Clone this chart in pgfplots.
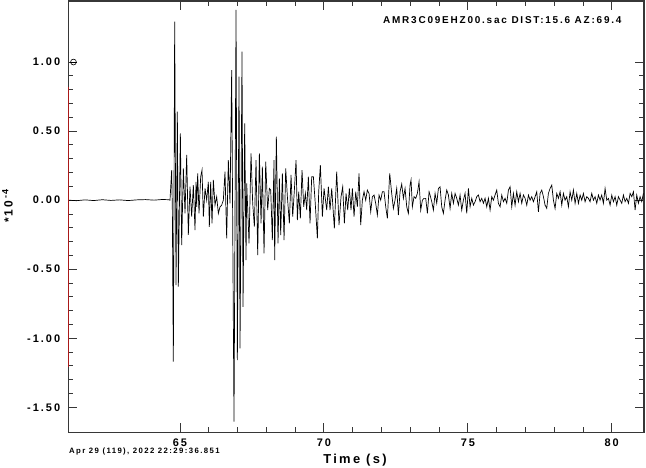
\documentclass[border=0pt]{standalone}
\usepackage{pgfplots}
\pgfplotsset{compat=1.18}
\usepackage{fontspec}
\setmainfont{Liberation Sans}[LetterSpace=18]
\definecolor{axgray}{RGB}{55,55,55}
\definecolor{sacred}{RGB}{170,25,25}
\begin{document}
\begin{tikzpicture}
\useasboundingbox (0,0) rectangle (646bp,468bp);
\begin{axis}[
  at={(68.3bp,35.7bp)}, anchor=south west,
  width=575.7bp, height=431.3bp, scale only axis,
  xmin=61.12, xmax=81.12, ymin=-1.681, ymax=1.442,
  clip=false,
  axis line style={draw=axgray, line width=1.5pt},
  xtick={65,70,75,80}, xticklabels={65,70,75,80},
  ytick={-1.5,-1,-0.5,0,0.5,1},
  yticklabels={-1.50,-1.00,-0.50,0.00,0.50,1.00},
  minor x tick num=4, minor y tick num=4,
  tick align=inside,
  major tick length=9bp, minor tick length=5bp,
  every tick/.style={draw=axgray, line width=0.9pt},
  tick label style={font=\bfseries\fontsize{11}{12}\selectfont},
  xticklabel style={inner sep=0pt, yshift=-6bp},
  yticklabel style={inner sep=0pt, xshift=-8bp},
  /pgf/number format/assume math mode=true,
]
\addplot[black, line width=0.7pt] coordinates {
(61.12,0.000) (61.40,-0.004) (61.70,0.002) (62.00,-0.003) (62.30,0.003) (62.60,-0.002) (62.90,0.002) (63.20,-0.003) (63.50,0.002) (63.80,0.004) (64.10,0.000) (64.40,0.005) (64.60,0.003) (64.653,0.0)
(64.711,0.218) (64.735,-0.072) (64.769,-1.170) (64.816,1.292) (64.862,-0.615) (64.908,0.641) (64.943,-0.627) (65.013,0.483) (65.059,-0.325) (65.117,0.230) (65.175,-0.096) (65.233,0.327) (65.290,-0.252) (65.348,0.097) (65.406,-0.120) (65.464,0.109) (65.522,-0.217) (65.557,0.133) (65.580,-0.048) (65.615,0.194) (65.661,-0.096) (65.719,0.170) (65.765,0.218) (65.812,-0.120) (65.870,0.085) (65.927,0.0) (65.985,0.133) (66.020,-0.193) (66.066,0.133) (66.113,-0.169) (66.159,0.146) (66.217,-0.036) (66.275,0.025) (66.333,-0.096) (66.391,-0.048) (66.448,-0.036) (66.506,0.0) (66.564,0.206) (66.622,-0.276) (66.680,0.290) (66.738,-0.024) (66.796,0.942) (66.877,-1.604) (66.947,1.377) (66.993,-1.158) (67.051,0.894) (67.086,-1.074) (67.155,1.075) (67.190,-0.772) (67.248,0.556)
(67.294,-0.434) (67.318,0.122) (67.399,-0.313) (67.468,0.339) (67.526,-0.023) (67.584,-0.192) (67.642,0.290) (67.700,-0.398) (67.758,0.339) (67.816,-0.168) (67.862,0.242) (67.920,-0.386) (67.978,0.278) (68.047,-0.072) (68.105,0.085) (68.152,0.073) (68.209,-0.289) (68.267,0.290) (68.290,-0.434) (68.348,0.459) (68.406,-0.313) (68.453,0.158) (68.499,-0.253) (68.557,0.194) (68.615,-0.289) (68.673,0.230) (68.731,0.025) (68.800,-0.168) (68.858,0.182) (68.916,-0.120) (68.974,0.073) (69.032,0.290) (69.078,-0.145) (69.124,0.061) (69.182,-0.132) (69.240,0.218) (69.298,-0.048) (69.356,0.049) (69.402,-0.072) (69.460,0.170) (69.518,-0.168) (69.576,0.170) (69.634,0.170) (69.692,0.0) (69.773,-0.277) (69.819,0.061) (69.877,0.254) (69.947,-0.120) (70.005,0.085)
(70.097,-0.072) (70.155,0.097) (70.213,-0.072) (70.271,0.085) (70.363,-0.204) (70.444,0.206) (70.525,-0.180) (70.595,0.025) (70.653,0.097) (70.711,-0.168) (70.769,0.049) (70.827,-0.072) (70.884,0.085) (70.942,-0.072) (70.989,0.085) (71.047,-0.120) (71.105,0.061) (71.162,-0.048) (71.220,0.194) (71.278,-0.180) (71.336,0.0) (71.394,0.061) (71.452,0.0) (71.510,0.073) (71.568,0.049) (71.626,-0.084) (71.684,0.025) (71.742,0.037) (71.799,-0.023) (71.857,-0.108) (71.915,0.037) (71.973,0.0) (72.031,0.061) (72.089,0.061) (72.147,-0.048) (72.205,-0.132) (72.286,0.194) (72.355,0.049) (72.413,-0.060) (72.471,0.0) (72.529,0.085) (72.587,-0.108) (72.645,0.061) (72.703,0.117) (72.761,0.013) (72.819,0.085) (72.877,-0.048) (72.935,-0.096) (72.992,0.109) (73.027,0.146) (73.073,-0.048) (73.131,0.025) (73.189,0.013) (73.247,0.049) (73.305,0.133) (73.363,-0.072) (73.421,0.0) (73.479,0.013) (73.537,0.013) (73.595,-0.096) (73.653,0.061)
(73.688,0.037) (73.746,-0.011) (73.804,-0.072) (73.862,0.049) (73.920,-0.023) (73.978,0.085) (74.035,0.097) (74.093,-0.048) (74.151,-0.096) (74.209,0.0) (74.267,0.073) (74.325,0.037) (74.383,-0.060) (74.441,0.049) (74.499,-0.023) (74.557,0.049) (74.615,0.013) (74.672,-0.036) (74.730,0.037) (74.788,-0.072) (74.846,0.0) (74.904,0.049) (74.962,-0.096) (75.020,0.085) (75.078,-0.048) (75.136,0.013) (75.194,-0.036) (75.252,-0.011) (75.309,0.025) (75.367,0.037) (75.425,-0.011) (75.483,0.013) (75.541,-0.023) (75.599,0.013) (75.657,-0.048) (75.715,0.013) (75.773,-0.072) (75.831,0.025) (75.889,0.0) (75.946,0.037) (76.004,0.073) (76.062,-0.023) (76.120,-0.048) (76.178,0.037) (76.236,-0.011) (76.294,0.013) (76.352,-0.023) (76.410,0.073) (76.468,0.097) (76.526,-0.048) (76.583,0.049) (76.641,-0.036) (76.699,0.061) (76.757,-0.011) (76.815,0.049) (76.873,-0.023) (76.931,0.037) (76.989,0.013) (77.047,-0.036) (77.105,0.037) (77.162,0.0) (77.220,0.025) (77.278,-0.011)
(77.336,0.025) (77.394,0.061) (77.452,-0.084) (77.510,0.049) (77.568,0.073) (77.626,0.025) (77.683,-0.036) (77.741,-0.060) (77.799,0.049) (77.857,0.085) (77.915,0.109) (77.973,0.0) (78.031,-0.060) (78.089,0.049) (78.147,0.013) (78.205,0.061) (78.263,-0.036) (78.320,0.049) (78.378,0.0) (78.436,0.025) (78.494,-0.048) (78.552,0.061) (78.610,0.0) (78.668,0.073) (78.726,-0.023) (78.784,0.049) (78.842,-0.023) (78.900,0.037) (78.957,0.0) (79.015,0.049) (79.073,-0.011) (79.131,0.025) (79.189,0.013) (79.247,-0.011) (79.305,0.049) (79.363,0.0) (79.421,0.025) (79.479,-0.023) (79.537,0.037) (79.594,0.0) (79.652,0.037) (79.710,-0.023) (79.768,0.085) (79.826,0.0) (79.884,0.013) (79.942,-0.036) (80.000,0.037) (80.058,-0.011) (80.116,0.025) (80.174,-0.036) (80.231,0.025) (80.289,0.0) (80.347,-0.023) (80.405,0.037) (80.463,-0.011) (80.521,0.013) (80.579,-0.023) (80.637,0.049) (80.695,0.025) (80.753,0.061) (80.811,-0.072) (80.868,0.037) (80.926,-0.023) (80.984,0.025) (81.042,-0.011) (81.100,0.049)
};
% red amplitude segment on left axis
\addplot[draw=sacred, line width=1.6pt] coordinates {(61.12,0.817) (61.12,-1.211)};
% marker at 1.00
\addplot[black, line width=0.6pt] coordinates {(61.17,1.0) (61.43,1.0)};
\addplot[only marks, mark=o, mark size=2.9bp, mark options={black, line width=0.6pt}] coordinates {(61.30,1.0)};
\end{axis}
\node[anchor=east, font=\bfseries\fontsize{10}{12}\selectfont] at (625bp,448bp) {AMR3C09EHZ00.sac DIST:15.6 AZ:69.4};
\node[anchor=west, inner sep=0pt, font=\bfseries\fontsize{7.8}{9}\selectfont] at (69bp,16.5bp) {Apr 29 (119), 2022 22:29:36.851};
\node[font=\bfseries\fontsize{13}{15}\selectfont] at (355bp,8bp) {Time (s)};
\node[rotate=90, inner sep=0pt, font=\bfseries\fontsize{12}{14}\selectfont] at (7.5bp,262bp) {*10\,\raisebox{0.7ex}{\fontsize{9}{10}\selectfont -4}};
\end{tikzpicture}
\end{document}
